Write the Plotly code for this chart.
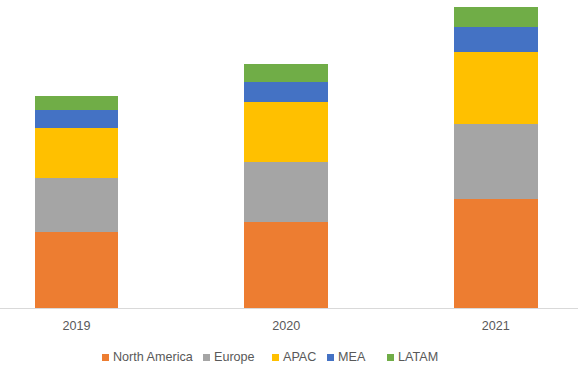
import plotly.graph_objects as go

years = ["2019", "2020", "2021"]
north_america = [76, 85.6, 108.6]
europe = [54, 60.4, 75]
apac = [50, 60.3, 72]
mea = [18, 20, 25]
latam = [13.7, 18, 20.4]

series = [
    ("North America", north_america, "#ED7D31"),
    ("Europe", europe, "#A5A5A5"),
    ("APAC", apac, "#FFC000"),
    ("MEA", mea, "#4472C4"),
    ("LATAM", latam, "#70AD47"),
]

W, H = 578, 368
PLOT_BOTTOM = 308  # px from top where the plot area ends

fig = go.Figure()
for name, vals, color in series:
    fig.add_trace(go.Bar(x=years, y=vals, name=name,
                         marker=dict(color=color, line=dict(width=0))))

# custom legend (symbol squares + labels) to match the compact Excel-style legend
legend_left_px = [102, 203, 272, 327, 387]
sym = 7
legend_cy = 357.5
shapes = []
annotations = []
for (name, _, color), lx in zip(series, legend_left_px):
    shapes.append(dict(
        type="rect", xref="paper", yref="paper",
        x0=lx / W, x1=(lx + sym) / W,
        y0=(PLOT_BOTTOM - (legend_cy + sym / 2)) / PLOT_BOTTOM,
        y1=(PLOT_BOTTOM - (legend_cy - sym / 2)) / PLOT_BOTTOM,
        fillcolor=color, line=dict(width=0),
    ))
    annotations.append(dict(
        text=name, xref="paper", yref="paper",
        x=(lx + sym + 2) / W, y=(PLOT_BOTTOM - legend_cy + 0.5) / PLOT_BOTTOM,
        xanchor="left", yanchor="middle", showarrow=False,
        font=dict(size=12.6, color="#595959"),
    ))

fig.update_layout(
    barmode="stack",
    bargap=0.6,
    width=W,
    height=H,
    margin=dict(l=0, r=0, t=0, b=H - PLOT_BOTTOM, autoexpand=False),
    paper_bgcolor="white",
    plot_bgcolor="white",
    showlegend=False,
    font=dict(family="Liberation Sans, Arial, sans-serif", size=12.6, color="#595959"),
    xaxis=dict(
        type="category",
        range=[-0.365, 2.392],
        showline=True,
        linecolor="#D9D9D9",
        linewidth=1,
        ticks="",
        ticklabelstandoff=6,
        showgrid=False,
        tickfont=dict(size=12.6, color="#595959"),
    ),
    yaxis=dict(range=[0, 308], visible=False, showgrid=False),
    shapes=shapes,
    annotations=annotations,
)

fig.write_html("out.html", config={"displayModeBar": False},
               post_script="document.body.style.margin='0';")
